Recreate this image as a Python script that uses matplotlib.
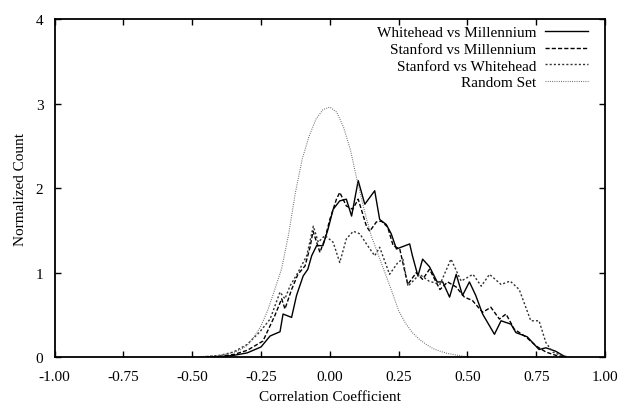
import numpy as np
import matplotlib
matplotlib.use("Agg")
import matplotlib.pyplot as plt

plt.rcParams['font.family'] = ['Liberation Serif', 'DejaVu Serif']
plt.rcParams['axes.unicode_minus'] = False

# Whitehead vs Millennium
wm_x = [-0.45, -0.40, -0.35, -0.30, -0.25, -0.217, -0.181, -0.17, -0.139, -0.121,
        -0.097, -0.08, -0.066, -0.048, -0.025, -0.007, 0.012, 0.036, 0.06, 0.079,
        0.103, 0.127, 0.163, 0.181, 0.205, 0.223, 0.242, 0.29, 0.30, 0.32,
        0.337, 0.362, 0.39, 0.41, 0.435, 0.459, 0.482, 0.507, 0.53, 0.555,
        0.598, 0.622, 0.658, 0.676, 0.717, 0.76, 0.785, 0.82, 0.857]
wm_y = [0.0, 0.005, 0.02, 0.05, 0.12, 0.25, 0.30, 0.51, 0.47, 0.73,
        0.96, 1.04, 1.2, 1.32, 1.32, 1.51, 1.75, 1.85, 1.87, 1.67,
        2.09, 1.81, 1.97, 1.63, 1.57, 1.46, 1.28, 1.34, 1.2, 0.96,
        1.16, 1.07, 0.89, 0.89, 0.71, 0.98, 0.73, 0.89, 0.73, 0.51,
        0.27, 0.43, 0.39, 0.29, 0.24, 0.09, 0.11, 0.07, 0.0]

# Stanford vs Millennium
sm_x = [-0.45, -0.40, -0.35, -0.30, -0.243, -0.2, -0.175, -0.163, -0.139, -0.116,
        -0.09, -0.072, -0.061, -0.036, -0.018, 0.0, 0.024, 0.036, 0.06, 0.083,
        0.103, 0.133, 0.145, 0.169, 0.187, 0.21, 0.23, 0.254, 0.283, 0.314,
        0.337, 0.362, 0.4, 0.428, 0.459, 0.489, 0.518, 0.555, 0.585, 0.616,
        0.64, 0.67, 0.712, 0.75, 0.785, 0.826, 0.86]
sm_y = [0.0, 0.01, 0.03, 0.08, 0.19, 0.49, 0.69, 0.57, 0.8, 0.98,
        1.08, 1.3, 1.49, 1.24, 1.4, 1.63, 1.87, 1.95, 1.79, 1.75,
        1.87, 1.55, 1.49, 1.6, 1.61, 1.54, 1.32, 1.28, 0.86, 1.0,
        0.92, 1.04, 0.8, 0.89, 0.83, 0.71, 0.67, 0.53, 0.59, 0.45,
        0.51, 0.33, 0.24, 0.13, 0.06, 0.015, 0.0]

# Stanford vs Whitehead
sw_x = [-0.45, -0.40, -0.35, -0.30, -0.254, -0.217, -0.181, -0.163, -0.145, -0.116,
        -0.084, -0.06, -0.042, -0.018, 0.012, 0.036, 0.06, 0.085, 0.109, 0.133,
        0.163, 0.181, 0.217, 0.247, 0.265, 0.284, 0.326, 0.36, 0.4, 0.44,
        0.477, 0.52, 0.55, 0.58, 0.622, 0.655, 0.688, 0.73, 0.76, 0.785,
        0.81, 0.84, 0.87]
sw_y = [0.005, 0.02, 0.06, 0.15, 0.3, 0.45, 0.77, 0.69, 0.84, 1.0,
        1.2, 1.55, 1.36, 1.44, 1.36, 1.12, 1.4, 1.49, 1.46, 1.34,
        1.2, 1.3, 0.98, 1.12, 1.16, 0.84, 0.98, 0.9, 0.86, 1.16,
        0.9, 0.98, 0.84, 0.98, 0.86, 0.9, 0.8, 0.43, 0.43, 0.17,
        0.06, 0.02, 0.0]

# Random Set
rs_x = [-0.5, -0.475, -0.45, -0.425, -0.4, -0.375, -0.35, -0.325, -0.3, -0.275,
        -0.25, -0.225, -0.2, -0.175, -0.15, -0.125, -0.1, -0.075, -0.05, -0.025,
        0.0, 0.025, 0.05, 0.075, 0.1, 0.125, 0.15, 0.175, 0.2, 0.225,
        0.25, 0.275, 0.3, 0.325, 0.35, 0.375, 0.4, 0.425, 0.45, 0.475,
        0.5, 0.525]
rs_y = [0.0, 0.004, 0.01, 0.015, 0.022, 0.035, 0.055, 0.085, 0.14, 0.24,
        0.37, 0.56, 0.8, 1.05, 1.45, 1.95, 2.35, 2.62, 2.82, 2.93,
        2.96, 2.9, 2.72, 2.45, 2.08, 1.74, 1.44, 1.22, 1.0, 0.78,
        0.55, 0.4, 0.29, 0.21, 0.15, 0.1, 0.07, 0.045, 0.03, 0.015,
        0.005, 0.0]

xticks = [-1.0, -0.75, -0.5, -0.25, 0.0, 0.25, 0.5, 0.75, 1.0]
yticks = [0, 1, 2, 3, 4]

fig = plt.figure(figsize=(6.2, 4.06), dpi=100)
ax = fig.add_axes([0.088, 0.118, 0.888, 0.832])

ax.plot(wm_x, wm_y, color='black', lw=1.0, ls='-', label='Whitehead vs Millennium')
ax.plot(sm_x, sm_y, color='black', lw=1.0, ls=(0, (3, 1.5)), label='Stanford vs Millennium')
ax.plot(sw_x, sw_y, color='#333333', lw=1.0, ls=(0, (1.5, 1.5)), label='Stanford vs Whitehead')
ax.plot(rs_x, rs_y, color='#666666', lw=0.8, ls=(0, (0.8, 1.2)), label='Random Set')

ax.set_xlim(-1, 1)
ax.set_ylim(0, 4)
ax.set_xticks(xticks)
ax.set_xticklabels(['%.2f' % t for t in xticks])
ax.set_yticks(yticks)
ax.tick_params(direction='in', top=True, right=True, length=4, width=1,
               labelsize=11)
ax.tick_params(axis='x', pad=9)
ax.tick_params(axis='y', pad=8)
for s in ax.spines.values():
    s.set_linewidth(1.3)

ax.set_xlabel('Correlation Coefficient', fontsize=11, labelpad=5)
ax.set_ylabel('Normalized Count', fontsize=11, labelpad=6)

ax.legend(loc='upper right', bbox_to_anchor=(0.98, 1.0), frameon=False,
          markerfirst=False, fontsize=11, handlelength=2.8, labelspacing=0.2,
          handletextpad=0.6, borderaxespad=0.0)

fig.savefig('out.png', dpi=100)
